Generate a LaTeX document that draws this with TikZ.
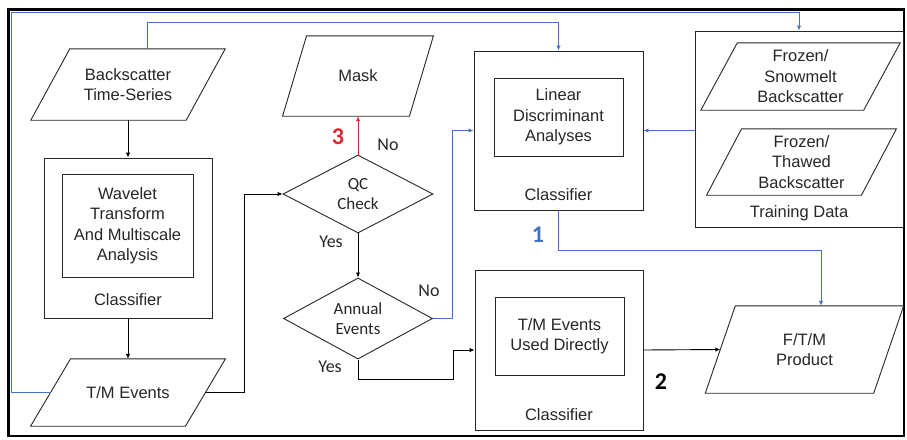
\documentclass[tikz,border=0pt]{standalone}
\usepackage{fontspec}
\setmainfont{Liberation Sans}
\newfontfamily\calfont{Carlito}
\usetikzlibrary{shapes.geometric,arrows.meta,calc}
\definecolor{fblue}{HTML}{4472C4}
\definecolor{fred}{HTML}{E3242B}
\definecolor{ftext}{HTML}{262626}
\tikzset{
  boxline/.style={draw=black!85, line width=0.9pt},
  txt/.style={font=\fontsize{16.5}{20.5}\selectfont, text=ftext, align=center, inner sep=0pt},
  pbox/.style={txt, draw=none, inner sep=0pt},
  rbox/.style={txt, boxline, inner sep=0pt},
  dbox/.style={diamond, boxline, inner sep=0pt, font=\calfont\fontsize{17}{20.5}\selectfont, text=ftext, align=center},
  lbl/.style={font=\calfont\fontsize{18}{20}\selectfont, text=ftext, inner sep=0pt},
  num/.style={font=\calfont\bfseries\fontsize{24}{26}\selectfont, inner sep=0pt},
  arr/.style={draw=black, line width=0.9pt, -{Latex[length=5pt,width=4.5pt]}},
  barr/.style={draw=fblue, line width=1pt, -{Latex[length=5pt,width=4.5pt]}},
  rarr/.style={draw=fred, line width=1pt, -{Latex[length=5pt,width=4.5pt]}},
}
% name, cx, cy, w, h, slant, text
\newcommand{\paranode}[7]{%
  \node[pbox, minimum width=#4pt, minimum height=#5pt] (#1) at (#2,#3) {#7};
  \draw[boxline] ([xshift=-#6pt/2]#1.south west) -- ([xshift=#6pt/2]#1.north west)
     -- ([xshift=#6pt/2]#1.north east) -- ([xshift=-#6pt/2]#1.south east) -- cycle;
}
\begin{document}
\begin{tikzpicture}[x=1pt,y=-1pt]
\useasboundingbox (0,0) rectangle (907,439);
\draw[black, line width=2.4pt] (8.5,9.5) rectangle (904,436);

% left column
\paranode{bts}{128}{84.5}{155}{71}{39}{Backscatter\\Time-Series}
\node[rbox, minimum width=168pt, minimum height=160pt] (cls1) at (128,238) {};
\node[rbox, minimum width=131pt, minimum height=103pt] (wt) at (127.5,225.5) {Wavelet\\Transform\\And Multiscale\\Analysis};
\node[txt] (cls1l) at (128,300) {Classifier};
\paranode{tme}{128}{392.5}{154.5}{67}{40}{T/M Events}

% middle column
\paranode{mask}{358}{76}{126.5}{80}{24}{Mask}
\node[dbox, minimum width=150pt, minimum height=78pt] (qc) at (358,194) {QC\\Check};
\node[dbox, minimum width=149pt, minimum height=77pt] (ann) at (358,318.5) {Annual\\Events};

% right-middle column
\node[rbox, minimum width=169pt, minimum height=159pt] (cls2) at (558.5,130.5) {};
\node[rbox, minimum width=129pt, minimum height=78pt] (lda) at (558.5,117) {Linear\\Discriminant\\Analyses};
\node[txt] (cls2l) at (558.5,195) {Classifier};

\node[rbox, minimum width=168pt, minimum height=160pt] (cls3) at (559,350) {};
\node[rbox, minimum width=129pt, minimum height=78pt] (tmd) at (559.5,336) {T/M Events\\Used Directly};
\node[txt] (cls3l) at (559,415) {Classifier};

% right column
\node[rbox, minimum width=208pt, minimum height=196pt] (train) at (799,129) {};
\paranode{fsb}{800.5}{76.5}{162.5}{67}{36.5}{Frozen/\\Snowmelt\\Backscatter}
\paranode{ftb}{801.5}{162}{154.5}{66}{35}{Frozen/\\Thawed\\Backscatter}
\node[txt] (trainl) at (799,213) {Training Data};
\paranode{ftm}{804.5}{349.5}{168}{87}{30}{F/T/M\\Product}

% connectors
\draw[arr] (bts.south) -- (cls1.north);
\draw[arr] (cls1.south) -- (tme.north);
\draw[arr] (tme.east) -| ([xshift=-38pt]qc.west) -- (qc.west);
\draw[rarr] (qc.north) -- (mask.south);
\draw[arr] (qc.south) -- (ann.north);
\draw[barr] (ann.east) -| ([xshift=-21pt]cls2.west) -- (cls2.west);
\draw[arr] (ann.south) -- ++(0,20) -| ([xshift=-21pt]cls3.west) -- (cls3.west);
\draw[arr] (cls3.east) -- (ftm.west);
\draw[barr] (train.west |- cls2.east) -- (cls2.east);
\draw[barr] (cls2.south) -- ++(0,40) -| ([xshift=16.5pt]ftm.north);
\draw[barr] ([xshift=19pt]bts.north) -- ++(0,-26) -| (cls2.north);
\draw[barr] (tme.west) -| (11.5,12.5) -| (train.north);

% labels
\node[num, text=fred] (n3) at (338,137) {3};
\node[lbl] (no1) at (388,145) {No};
\node[lbl] (yes1) at (331,242) {Yes};
\node[lbl] (no2) at (429,291) {No};
\node[lbl] (yes2) at (330,367) {Yes};
\node[num, text=fblue] (n1) at (538,235) {1};
\node[num, text=black] (n2) at (661,382) {2};
\end{tikzpicture}
\end{document}
